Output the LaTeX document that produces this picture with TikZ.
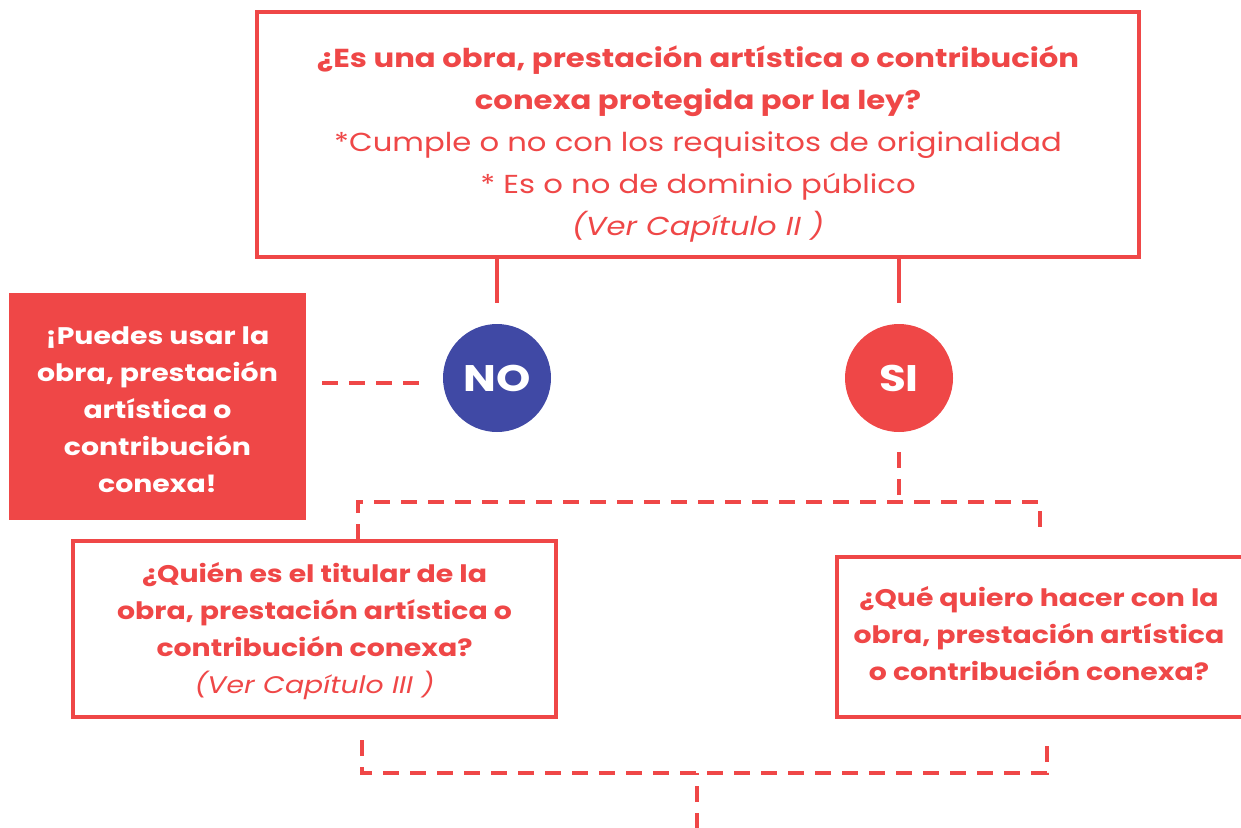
\documentclass[tikz,border=0pt]{standalone}
\usepackage{fontspec}
\setmainfont{Poppins}[FakeStretch=1.18]
\definecolor{cred}{RGB}{239,71,71}
\definecolor{cblue}{RGB}{64,73,165}
\begin{document}
\begin{tikzpicture}[x=1pt,y=-1pt,
  frame/.style={draw=cred,line width=4.5pt,fill=white,inner sep=0pt},
  txt/.style={text=cred,align=center,inner sep=0pt},
  wtxt/.style={text=white,align=center,inner sep=0pt},
  ball/.style={circle,minimum size=108pt,inner sep=0pt,text=white,font=\fontsize{37}{40}\selectfont\bfseries},
  solidline/.style={draw=cred,line width=4.5pt},
  dashline/.style={draw=cred,line width=4.5pt,dash pattern=on 16pt off 11pt}]
\useasboundingbox (0,0) rectangle (1241,827);
% boxes
\node[frame,minimum width=882pt,minimum height=245pt] (top) at (698,134.5) {};
\node[txt,font=\fontsize{26}{42}\selectfont] (toptext) at (698,144.5) {%
  \textbf{¿Es una obra, prestación artística o contribución}\\
  \textbf{conexa protegida por la ley?}\\
  *Cumple o no con los requisitos de originalidad\\
  * Es o no de dominio público\\
  \textit{(Ver Capítulo II )}};
\node[fill=cred,draw=none,minimum width=297pt,minimum height=227pt,inner sep=0pt] (use) at (157.5,406.5) {};
\node[wtxt,font=\fontsize{24}{37}\selectfont\bfseries] (usetext) at (157.5,410) {%
  ¡Puedes usar la\\obra, prestación\\artística o\\contribución\\conexa!};
\node[ball,fill=cblue] (no) at (497,378) {NO};
\node[ball,fill=cred] (si) at (899,378) {SI};
\node[frame,minimum width=483pt,minimum height=176pt] (who) at (314.5,629) {};
\node[txt,font=\fontsize{24}{37}\selectfont] (whotext) at (314.5,631) {%
  \textbf{¿Quién es el titular de la}\\
  \textbf{obra, prestación artística o}\\
  \textbf{contribución conexa?}\\
  \textit{(Ver Capítulo III )}};
\node[frame,minimum width=420pt,minimum height=160pt] (what) at (1047,637) {};
\node[txt,font=\fontsize{24}{37}\selectfont\bfseries] (whattext) at (1039,634) {%
  ¿Qué quiero hacer con la\\obra, prestación artística\\o contribución conexa?};
% connectors
\coordinate (a1) at (497,303);
\coordinate (a2) at (899,303);
\draw[solidline] (top.south -| a1) -- (a1);
\draw[solidline] (top.south -| a2) -- (a2);
\draw[dashline] ([xshift=16pt]use.east |- 0,383) -- ([xshift=-24pt]no.west |- 0,383);
\coordinate (s1) at (899,452);
\coordinate (j) at (899,502);
\coordinate (jl) at (358,502);
\coordinate (jr) at (1040,502);
\coordinate (sl) at (358,540);
\coordinate (sr) at (1040,538);
\draw[dashline] (s1) -- (j);
\draw[dashline] (sl) -- (jl) -- (jr) -- (sr);
\coordinate (bl) at (362,740);
\coordinate (br) at (1047,740);
\coordinate (bl2) at (362,773);
\coordinate (br2) at (1047,773);
\coordinate (bm) at (697,773);
\coordinate (be) at (697,829);
\draw[dashline] (bl) -- (bl2) -- (br2) -- (br);
\draw[dashline] (be) -- (bm);
\end{tikzpicture}
\end{document}
